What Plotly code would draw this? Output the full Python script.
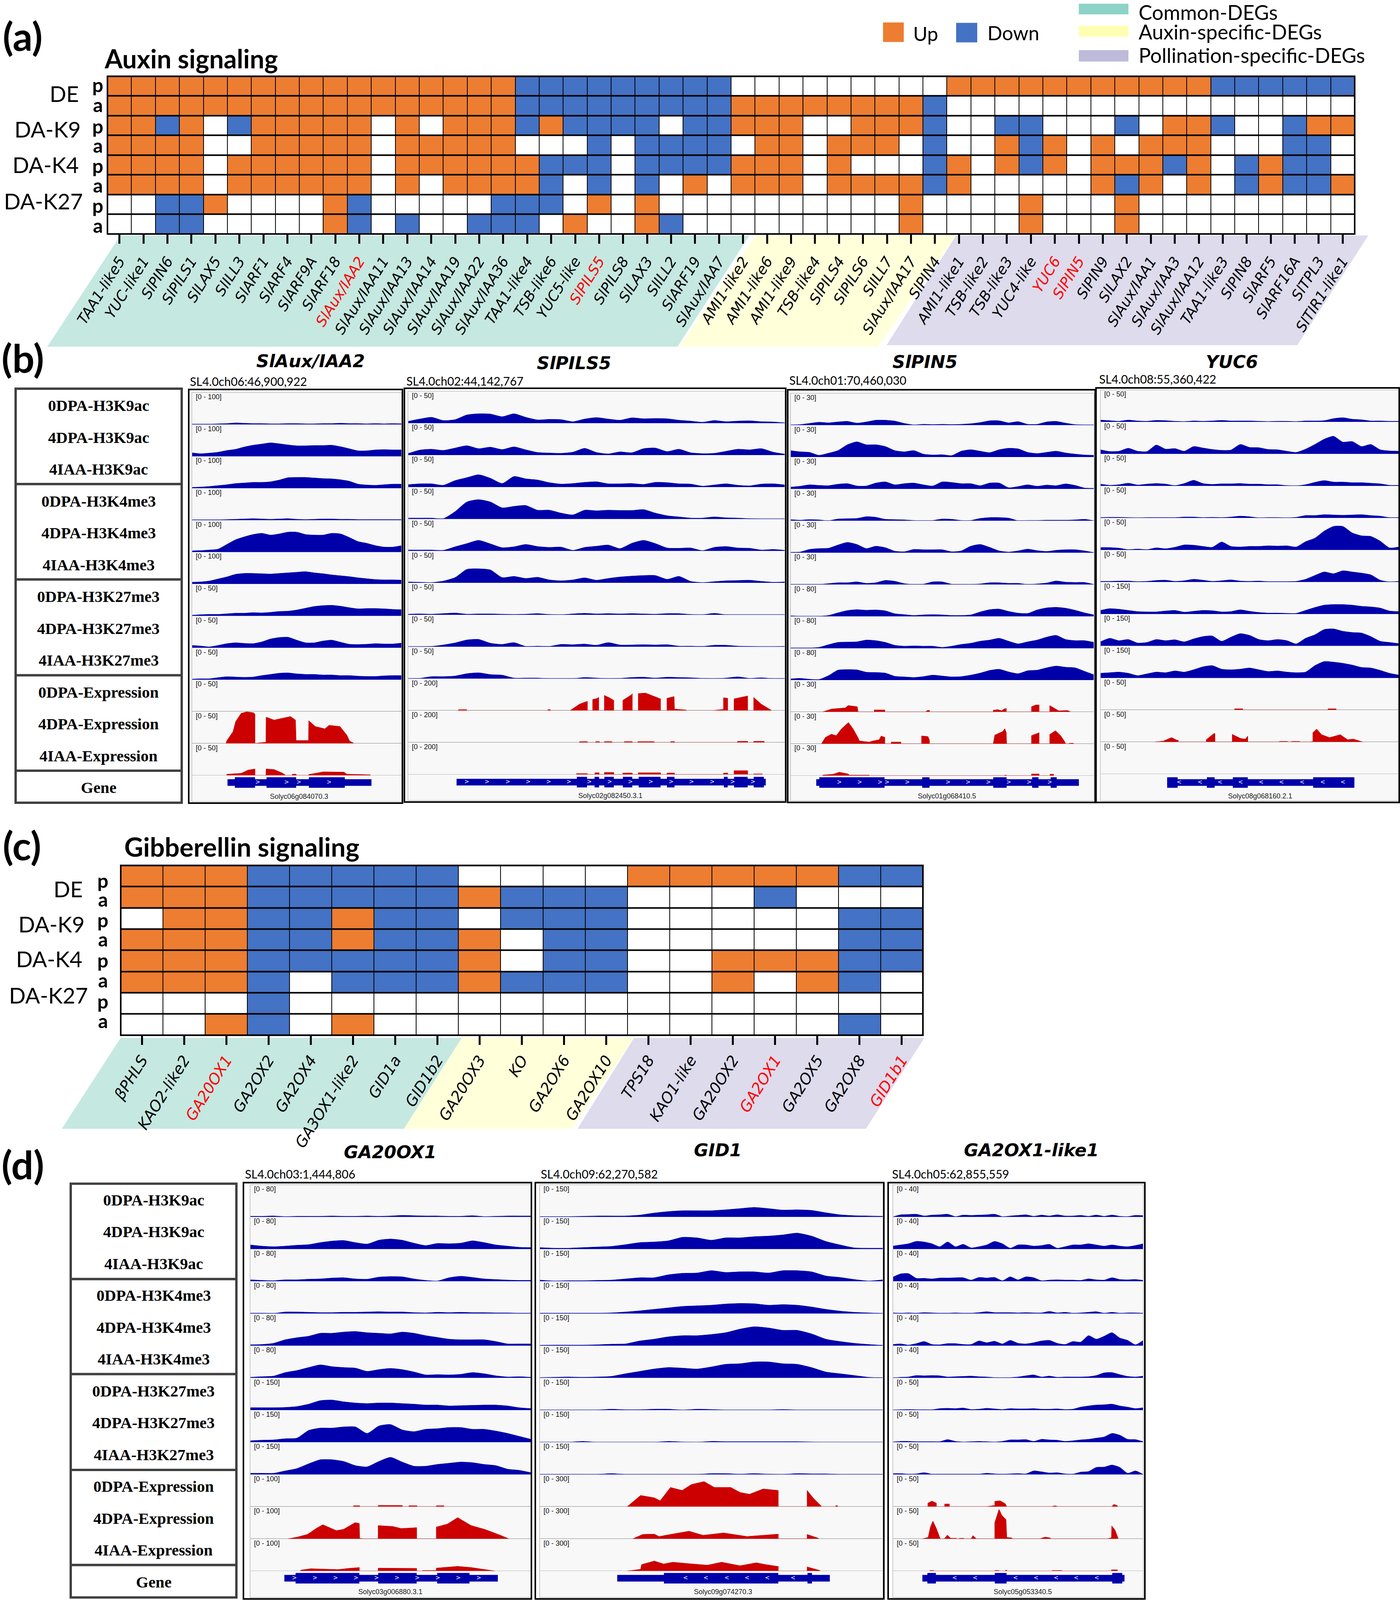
import numpy as np
import plotly.graph_objects as go

W, H = 3583, 4343

# ---- heatmap data ----
auxin_genes = ['TAA1-like5', 'YUC-like1', 'SlPIN6', 'SlPILS1', 'SlLAX5', 'SlILL3', 'SlARF1', 'SlARF4', 'SlARF9A',
               'SlARF18', 'SlAux/IAA2', 'SlAux/IAA11', 'SlAux/IAA13', 'SlAux/IAA14', 'SlAux/IAA19', 'SlAux/IAA22',
               'SlAux/IAA36', 'TAA1-like4', 'TSB-like6', 'YUC5-like', 'SlPILS5', 'SlPILS8', 'SlLAX3', 'SlILL2',
               'SlARF19', 'SlAux/IAA7', 'AMI1-like2', 'AMI1-like6', 'AMI1-like9', 'TSB-like4', 'SlPILS4', 'SlPILS6',
               'SlILL7', 'SlAux/IAA17', 'SlPIN4', 'AMI1-like1', 'TSB-like2', 'TSB-like3', 'YUC4-like', 'YUC6',
               'SlPIN5', 'SlPIN9', 'SlLAX2', 'SlAux/IAA1', 'SlAux/IAA3', 'SlAux/IAA12', 'TAA1-like3', 'SlPIN8',
               'SlARF5', 'SlARF16A', 'SlTPL3', 'SlTIR1-like1']
auxin_rows = [
    'OOOOOOOOOOOOOOOOOBBBBBBBBB_________OOOOOOOOOOOBBBBBB',
    'OOOOOOOOOOOOOOOOOBBBBBBBBBOOOOOOOOB_________________',
    'OOBO_BOOOOO_O_OOOBOBBBB_BBOOO__OOOB__BB___B_OOB__BOO',
    'OOOO__OOOOO_OOOOO___B_BBBB_OO_OOO_B__OBO_O_OOO___BB_',
    'OOOO_OOOOOO_OOOOOOBBB_BBBBOOO_O___BO_OBO_OOOBO_BOBB_',
    'OOOO_OOOOOO_O_OOOOB_B_B_O_OOO_OOOOBO_____OBO_O_BOBBO',
    '__BBO____OB_____BBB_O_O__________O____O___O_________',
    '__BB_____OB_B__BBB_O__OB_________O____O___O_________',
]
ga_genes = ['βPHLS', 'KAO2-like2', 'GA20OX1', 'GA2OX2', 'GA2OX4', 'GA3OX1-like2', 'GID1a', 'GID1b2', 'GA20OX3', 'KO',
            'GA2OX6', 'GA2OX10', 'TPS18', 'KAO1-like', 'GA20OX2', 'GA2OX1', 'GA2OX5', 'GA2OX8', 'GID1b1']
ga_rows = [
    'OOOBBBBB____OOOOOBB',
    'OOOBBBBBOBBB___B___',
    '_OOBBOBB_BBB_____BB',
    'OOOBBOBBO_BB_____BB',
    'OOOBBBBBO_BB__OOOBB',
    'OOOB_BBBOBBB__O_OB_',
    '___B_______________',
    '__OB_O___________B_',
]
red_genes = ['SlAux/IAA2', 'SlPILS5', 'YUC6', 'SlPIN5', 'GA20OX1', 'GA2OX1', 'GID1b1']
mark_names = ['0DPA-H3K9ac', '4DPA-H3K9ac', '4IAA-H3K9ac', '0DPA-H3K4me3', '4DPA-H3K4me3', '4IAA-H3K4me3',
              '0DPA-H3K27me3', '4DPA-H3K27me3', '4IAA-H3K27me3', '0DPA-Expression', '4DPA-Expression',
              '4IAA-Expression', 'Gene']

# ---- coverage tracks: heights, track full height = 109 ----
# SlAux/IAA2
iaa2_k9_0 = [1, 1, 1, 2, 3, 5, 4, 3, 3, 2, 2, 3, 3, 2, 2, 3, 3, 4, 3, 3, 2, 3, 2, 3, 2]
iaa2_k9_4 = [12, 9, 11, 14, 20, 24, 32, 38, 42, 46, 43, 39, 36, 36, 37, 37, 38, 33, 26, 19, 19, 22, 23, 22, 22]
iaa2_k9_i = [3, 4, 6, 9, 12, 16, 18, 20, 20, 22, 28, 36, 37, 37, 35, 33, 32, 29, 24, 14, 11, 10, 12, 14, 14]
iaa2_k4_0 = [1, 1, 1, 1, 2, 3, 4, 5, 4, 3, 4, 5, 3, 2, 3, 4, 4, 3, 3, 2, 2, 2, 2, 2, 2]
iaa2_k4_4 = [4, 5, 7, 10, 26, 42, 52, 60, 64, 58, 62, 68, 68, 60, 58, 58, 64, 62, 50, 36, 30, 22, 17, 17, 22]
iaa2_k4_i = [6, 7, 10, 17, 24, 33, 36, 36, 35, 34, 36, 38, 40, 42, 38, 35, 31, 28, 25, 21, 18, 15, 14, 14, 13]
iaa2_k27_0 = [2, 4, 5, 5, 7, 9, 9, 11, 10, 12, 15, 16, 20, 26, 32, 35, 36, 33, 28, 24, 25, 25, 24, 22, 21]
iaa2_k27_4 = [8, 6, 3, 8, 14, 17, 15, 14, 20, 30, 35, 36, 26, 17, 17, 23, 26, 19, 12, 11, 12, 14, 13, 13, 16]
iaa2_k27_i = [2, 3, 3, 7, 10, 9, 8, 9, 14, 18, 22, 23, 20, 18, 18, 16, 16, 14, 14, 12, 11, 11, 13, 14, 14]
iaa2_rna_0 = []
iaa2_rna_4 = [(16.3, 0), (16.7, 10), (19.6, 40), (20.9, 75), (23.5, 103), (26.1, 108), (29.4, 105), (30.1, 100), (30.1, 0),
              (32, 2), (35.3, 4), (35.4, 90), (39.2, 80), (47, 92), (49.4, 80), (49.7, 10), (55.6, 10), (55.7, 78),
              (58.8, 58), (63.4, 50), (65.4, 62), (70.6, 58), (73.9, 28), (75.2, 8), (76.9, 2), (77.1, 0)]
iaa2_rna_i = [(16.6, 0), (16.7, 4), (23.5, 7), (26.8, 18), (30.1, 22), (30.1, 0), (35.3, 0), (35.4, 22), (39.2, 20),
              (43.1, 8), (44.4, 2), (44.5, 0), (47.8, 0), (47.9, 4), (49.7, 4), (49.8, 0), (55.6, 0), (55.7, 3),
              (62.7, 12), (72.5, 11), (73.9, 4), (85, 2), (85.1, 0)]
iaa2_utr = [(17, 85.6)]
iaa2_exons = [(20.5, 30.1), (35.6, 49.7), (55.8, 72.9)]
iaa2_arrows = [31.4, 45.1, 51, 65.4]

# SlPILS5
pils5_k9_0 = [6, 14, 20, 9, 12, 28, 32, 31, 22, 32, 20, 11, 13, 12, 5, 14, 19, 14, 10, 18, 15, 16, 15, 10, 7, 3, 9, 5, 7, 8, 5, 4, 1]
pils5_k9_4 = [5, 17, 20, 16, 24, 32, 22, 27, 19, 28, 18, 9, 7, 6, 10, 23, 9, 4, 11, 8, 22, 24, 12, 20, 8, 5, 6, 13, 20, 18, 22, 10, 3]
pils5_k9_i = [8, 11, 11, 6, 22, 32, 42, 30, 12, 36, 28, 24, 15, 10, 12, 16, 18, 11, 11, 12, 9, 16, 15, 11, 10, 3, 7, 11, 6, 4, 10, 11, 7]
pils5_k4_0 = [3, 3, 3, 1, 25, 58, 66, 58, 38, 43, 46, 30, 30, 20, 14, 30, 28, 30, 29, 29, 32, 20, 11, 7, 3, 3, 7, 4, 3, 1, 0, 0, 0]
pils5_k4_4 = [3, 3, 3, 2, 14, 25, 36, 24, 11, 14, 22, 15, 12, 13, 2, 12, 16, 20, 8, 26, 36, 25, 10, 9, 10, 1, 12, 15, 10, 9, 3, 5, 2]
pils5_k4_i = [3, 2, 1, 6, 18, 46, 48, 44, 18, 22, 15, 19, 10, 7, 10, 17, 9, 15, 20, 23, 25, 25, 12, 22, 5, 1, 4, 7, 8, 9, 5, 2, 3]
pils5_k27_0 = [2, 3, 2, 4, 6, 2, 3, 3, 2, 1, 2, 4, 1, 0, 3, 5, 3, 4, 3, 4, 3, 2, 4, 4, 1, 0, 5, 0, 0, 0, 0, 0, 0]
pils5_k27_4 = [0, 0, 1, 6, 13, 23, 25, 12, 8, 14, 1, 2, 1, 8, 7, 9, 5, 14, 6, 6, 7, 6, 7, 2, 2, 1, 5, 5, 2, 1, 0, 0, 1]
pils5_k27_i = [0, 1, 7, 7, 9, 17, 20, 14, 12, 2, 2, 2, 0, 0, 0, 4, 2, 0, 1, 4, 5, 2, 5, 4, 3, 1, 0, 2, 6, 1, 3, 0, 0]
pils5_rna_0 = [(13.4, 0), (13.4, 3), (15.6, 3), (15.6, 0), (37.1, 0), (37.1, 3), (37.8, 3), (37.8, 0), (43, 0), (45.5, 22),
               (47.6, 32), (47.6, 0), (49, 0), (49, 38), (50.3, 42), (50.6, 46), (50.6, 0), (52.1, 0), (52.1, 52),
               (53.4, 44), (54.6, 35), (54.6, 0), (57, 0), (57, 35), (59.4, 55), (59.5, 58), (59.5, 0), (61.1, 0),
               (61.1, 58), (63, 60), (67, 40), (67, 0), (68.7, 0), (68.7, 42), (70.6, 48), (70.7, 5), (73.8, 2),
               (73.8, 0), (80.7, 0), (83.7, 4), (83.7, 44), (84.8, 42), (84.8, 0), (86.5, 0), (86.5, 40), (90.1, 50),
               (90.1, 0), (91.7, 0), (91.7, 45), (93.7, 22), (96.4, 1), (96.4, 0)]
pils5_rna_4 = [(45.5, 47.6, 3), (49.8, 50.8, 3), (52.1, 54.1, 3), (57.4, 59.5, 3), (61, 65.3, 3), (69.7, 70.7, 3),
               (87.4, 90.1, 4), (91.7, 94.5, 4)]
pils5_rna_i = [(44.7, 47.6, 3), (49.6, 50.7, 6), (52.1, 54.6, 7), (57, 59.5, 5), (61.1, 67, 6), (68.7, 70.7, 5),
               (83.7, 84.8, 5), (86.5, 90.1, 13), (91.7, 94, 2)]
pils5_utr = [(12.9, 94.9)]
pils5_exons = [(44.8, 47.5), (49.5, 50.7), (52.1, 54.6), (57, 59.5), (61.2, 67), (68.7, 70.7), (83.8, 84.8), (86.5, 90.1), (91.7, 94.4)]
pils5_arrows = [15.6, 21, 26.5, 31.9, 37.3, 42.7, 48.1, 53.5, 59, 64.4, 69.8, 75.2, 80.7, 86.1, 91.5]

# SlPIN5
pin5_k9_0 = [1, 2, 6, 10, 8, 11, 13, 7, 11, 17, 17, 14, 6, 1, 3, 2, 3, 2, 3, 5, 9, 15, 15, 8, 12, 3, 3, 11, 13, 7, 2, 1, 0]
pin5_k9_4 = [22, 18, 16, 6, 13, 22, 42, 52, 42, 42, 36, 22, 18, 22, 10, 7, 8, 5, 20, 25, 20, 15, 25, 30, 28, 16, 12, 16, 20, 14, 10, 7, 6]
pin5_k9_i = [6, 9, 14, 12, 11, 16, 18, 10, 10, 20, 24, 14, 18, 20, 14, 10, 24, 22, 18, 18, 11, 20, 20, 4, 8, 14, 9, 13, 11, 17, 12, 3, 2]
pin5_k4_0 = [4, 2, 4, 3, 0, 6, 7, 8, 14, 12, 5, 4, 3, 1, 0, 1, 6, 5, 1, 1, 8, 11, 11, 9, 0, 1, 1, 2, 2, 2, 3, 5, 0]
pin5_k4_4 = [1, 2, 11, 14, 15, 26, 35, 28, 14, 22, 17, 5, 3, 11, 10, 10, 10, 3, 6, 22, 28, 18, 6, 2, 6, 12, 7, 4, 8, 10, 10, 6, 0]
pin5_k4_i = [0, 0, 0, 0, 3, 6, 6, 9, 4, 6, 14, 11, 3, 0, 1, 9, 9, 1, 0, 0, 2, 6, 6, 4, 4, 0, 2, 5, 12, 8, 7, 7, 0]
pin5_k27_0 = [2, 0, 0, 0, 3, 12, 20, 23, 21, 22, 19, 9, 6, 3, 5, 6, 5, 3, 3, 5, 15, 23, 25, 17, 11, 10, 22, 29, 31, 28, 21, 12, 5]
pin5_k27_4 = [1, 1, 1, 3, 12, 20, 21, 22, 28, 26, 20, 10, 7, 8, 7, 7, 3, 7, 13, 17, 24, 28, 34, 24, 15, 22, 28, 38, 44, 30, 26, 26, 20]
pin5_k27_i = [4, 6, 3, 2, 15, 34, 36, 35, 27, 26, 24, 13, 11, 9, 12, 17, 14, 11, 12, 17, 24, 33, 37, 28, 22, 32, 34, 42, 48, 44, 42, 30, 18]
pin5_rna_0 = [(10.6, 0), (11.5, 3), (13.5, 10), (18.1, 14), (19, 22), (22, 18), (22.3, 0), (27.6, 0), (27.6, 7), (31.1, 7),
              (31.1, 0), (44.5, 0), (45.1, 5), (45.8, 6), (45.8, 0), (66.8, 0), (66.8, 6), (68.3, 8), (69.6, 4),
              (70.3, 10), (71.1, 12), (71.1, 0), (79.4, 0), (79.4, 18), (80.8, 24), (81.9, 24), (81.9, 0), (85.4, 0),
              (85.4, 22), (87.7, 8), (88.3, 4), (91.3, 5), (92.3, 0)]
pin5_rna_4 = [(10.2, 0), (11.5, 22), (13.5, 33), (15.1, 28), (16.7, 50), (19.1, 73), (20.7, 50), (22.3, 20), (22.7, 10),
              (25.9, 6), (27.2, 10), (29.2, 14), (29.9, 27), (31.1, 22), (31.1, 0), (33.2, 0), (33.2, 6), (36.4, 6),
              (36.4, 0), (43.2, 0), (43.2, 27), (45.3, 25), (45.8, 12), (45.8, 0), (66.8, 0), (67.3, 30), (69.9, 42),
              (70.6, 52), (71.1, 38), (71.2, 0), (79.4, 0), (79.4, 28), (81.9, 38), (81.9, 0), (85.4, 0), (85.4, 32),
              (87.3, 45), (89, 28), (90.3, 8), (90.6, 0), (91.9, 0), (91.9, 2), (93.2, 2), (93.2, 0)]
pin5_rna_i = [(10.6, 0), (10.6, 2), (14.1, 5), (16.1, 12), (19, 6), (19.4, 2), (25.9, 2), (25.9, 0), (70.6, 0), (70.6, 2),
              (71.1, 2), (71.1, 0), (79.4, 0), (79.4, 6), (81.9, 6), (81.9, 0), (85.5, 0), (85.5, 5), (86.7, 5), (86.7, 0)]
pin5_utr = [(8.5, 95)]
pin5_exons = [(9.5, 31), (43.4, 45.8), (66.8, 71.2), (79.6, 81.7), (85.7, 87.7)]
pin5_arrows = [16.1, 22.8, 29.5, 31.8, 38.5, 51.9, 58.5, 65.2, 71.9, 78.6, 85.4]

# YUC6
yuc6_k9_0 = [6, 4, 2, 6, 3, 2, 5, 4, 2, 1, 3, 2, 3, 5, 3, 3, 3, 2, 1, 2, 2, 1, 3, 3, 4, 11, 14, 9, 7, 3, 3, 2, 2]
yuc6_k9_4 = [14, 8, 9, 19, 9, 8, 30, 16, 18, 9, 25, 20, 15, 12, 13, 32, 22, 21, 15, 14, 9, 5, 16, 32, 50, 60, 40, 42, 25, 32, 14, 10, 9]
yuc6_k9_i = [6, 2, 4, 9, 3, 6, 8, 6, 1, 8, 19, 8, 5, 7, 7, 8, 6, 6, 4, 4, 1, 0, 4, 12, 18, 13, 13, 11, 11, 9, 7, 2, 2]
yuc6_k4_0 = [1, 2, 2, 1, 0, 1, 1, 1, 1, 3, 3, 1, 2, 1, 3, 6, 4, 0, 1, 1, 0, 2, 8, 8, 11, 10, 9, 10, 11, 8, 6, 1, 1]
yuc6_k4_4 = [8, 8, 6, 1, 3, 1, 7, 4, 9, 17, 16, 12, 9, 27, 12, 10, 12, 12, 14, 13, 14, 10, 28, 40, 64, 80, 80, 58, 48, 46, 30, 7, 10]
yuc6_k4_i = [2, 2, 3, 3, 1, 2, 5, 6, 2, 4, 9, 6, 2, 4, 7, 3, 2, 3, 1, 1, 1, 2, 9, 22, 34, 28, 38, 34, 30, 24, 6, 0, 2]
yuc6_k27_0 = [12, 18, 16, 12, 8, 7, 7, 10, 12, 6, 9, 12, 11, 7, 8, 14, 9, 5, 3, 3, 2, 2, 12, 22, 30, 32, 32, 30, 26, 24, 20, 10, 8]
yuc6_k27_4 = [14, 26, 18, 22, 10, 12, 22, 18, 21, 14, 24, 32, 34, 16, 30, 42, 36, 22, 18, 22, 18, 7, 26, 38, 56, 58, 50, 46, 44, 32, 16, 12, 8]
yuc6_k27_i = [16, 18, 20, 16, 8, 14, 20, 18, 24, 20, 28, 38, 42, 30, 28, 30, 34, 28, 22, 24, 20, 18, 20, 42, 56, 54, 50, 44, 36, 34, 26, 16, 10]
yuc6_rna_0 = [(45, 47.7, 4), (76.3, 79, 4)]
yuc6_rna_4 = [(18.3, 0), (21.1, 3), (23.1, 12), (23.9, 15), (25.7, 6), (26.1, 6), (26.1, 0), (35.5, 0), (35.5, 8), (38.2, 30),
              (38.4, 28), (38.4, 0), (44.2, 0), (44.2, 26), (47, 12), (48.6, 10), (49.4, 20), (49.4, 0), (60, 0), (60, 2),
              (62.7, 2), (62.7, 0), (64.1, 0), (64.1, 2), (66.8, 2), (66.8, 0), (70.3, 0), (71.2, 2), (71.2, 32),
              (72.5, 44), (74.1, 25), (76.8, 15), (80.4, 25), (82.8, 8), (84.8, 10), (87.9, 0)]
yuc6_rna_i = []
yuc6_utr = [(22.4, 85.1)]
yuc6_exons = [(22.4, 25.9), (35.7, 38.3), (44.4, 49.4), (71.3, 85.1)]
yuc6_arrows = [26.4, 33.4, 40.1, 47, 53.9, 60.7, 67.6, 74.5, 81.3]

# GA20OX1
ga20_k9_0 = [2, 2, 3, 1, 2, 2, 2, 3, 2, 2, 3, 2, 3, 5, 4, 3, 3, 2, 2, 4, 1, 2, 3, 3, 3]
ga20_k9_4 = [14, 10, 8, 10, 13, 15, 22, 27, 29, 22, 17, 30, 34, 30, 20, 12, 19, 18, 20, 28, 22, 14, 10, 6, 5]
ga20_k9_i = [5, 3, 2, 5, 5, 7, 8, 11, 12, 8, 7, 14, 16, 15, 8, 3, 1, 12, 17, 13, 8, 6, 4, 3, 3]
ga20_k4_0 = [1, 1, 0, 5, 5, 4, 3, 3, 4, 4, 5, 6, 5, 5, 3, 2, 4, 3, 4, 3, 3, 2, 2, 1, 1]
ga20_k4_4 = [3, 4, 8, 20, 27, 32, 42, 42, 46, 48, 44, 42, 40, 46, 42, 34, 28, 22, 20, 20, 20, 14, 6, 6, 6]
ga20_k4_i = [2, 4, 6, 18, 25, 35, 44, 38, 35, 33, 22, 28, 32, 28, 20, 10, 11, 10, 12, 18, 14, 7, 3, 4, 2]
ga20_k27_0 = [8, 8, 8, 9, 12, 20, 32, 34, 28, 24, 22, 24, 24, 22, 20, 17, 17, 14, 15, 16, 17, 17, 14, 8, 5]
ga20_k27_4 = [5, 7, 8, 12, 14, 40, 48, 48, 52, 52, 30, 55, 60, 42, 36, 44, 46, 50, 50, 44, 44, 38, 30, 20, 10]
ga20_k27_i = [4, 4, 4, 12, 20, 36, 50, 50, 44, 30, 26, 44, 58, 42, 28, 28, 34, 38, 42, 40, 34, 30, 18, 14, 6]
ga20_rna_0 = [(36.8, 39, 3), (45.6, 54.2, 4), (56.5, 59.4, 3), (66.3, 69, 3)]
ga20_rna_4 = [(13.5, 0), (16.8, 6), (20.4, 15), (23.5, 35), (25.9, 48), (28.3, 38), (30.7, 28), (33.2, 32), (37.4, 55),
              (38.9, 52), (39, 2), (40.2, 0), (45.6, 0), (45.6, 45), (50.8, 42), (53.8, 35), (59.3, 38), (59.3, 0),
              (66.3, 0), (66.3, 40), (70.2, 50), (73.9, 72), (78.7, 45), (83.6, 32), (89.7, 10), (92.1, 0)]
ga20_rna_i = [(18, 0), (18, 3), (21.6, 8), (27.7, 6), (31.3, 5), (35, 9), (38.9, 12), (38.9, 0), (45.6, 0), (45.6, 10),
              (59.3, 9), (59.3, 0), (61.4, 0), (61.4, 2), (66.3, 2), (66.3, 10), (73.9, 16), (78.7, 12), (84.8, 3), (87.2, 0)]
ga20_utr = [(12.2, 88.2)]
ga20_exons = [(16.2, 38.9), (45.6, 59.3), (66.6, 78.1)]
ga20_arrows = [15.8, 23.1, 30.4, 37.7, 45, 52.3, 59.5, 66.8, 74.1, 81.4]

# GID1
gid1_k9_0 = [1, 1, 1, 2, 3, 3, 3, 6, 13, 18, 21, 21, 21, 24, 28, 32, 28, 23, 24, 22, 14, 7, 4, 3, 2]
gid1_k9_4 = [5, 3, 3, 5, 7, 9, 15, 22, 24, 28, 40, 38, 30, 38, 38, 42, 44, 48, 54, 44, 26, 14, 4, 3, 3]
gid1_k9_i = [4, 1, 2, 2, 3, 4, 8, 12, 12, 22, 27, 28, 36, 30, 32, 32, 28, 36, 36, 32, 18, 13, 6, 1, 5]
gid1_k4_0 = [1, 1, 1, 1, 1, 2, 5, 9, 14, 19, 24, 26, 28, 32, 34, 33, 28, 30, 28, 22, 14, 8, 4, 2, 0]
gid1_k4_4 = [1, 2, 2, 2, 3, 5, 6, 16, 22, 30, 34, 34, 38, 44, 56, 64, 60, 52, 52, 40, 22, 14, 8, 4, 1]
gid1_k4_i = [1, 2, 3, 2, 3, 5, 14, 22, 30, 35, 33, 30, 37, 46, 48, 54, 54, 48, 46, 35, 20, 14, 8, 2, 0]
gid1_k27_0 = [0, 0, 0, 0, 0, 3, 1, 1, 3, 3, 0, 3, 2, 0, 0, 0, 0, 2, 0, 0, 0, 0, 0, 0, 0]
gid1_k27_4 = [0, 0, 0, 3, 0, 0, 0, 0, 0, 3, 1, 0, 3, 2, 2, 2, 2, 2, 2, 1, 0, 0, 0, 0, 0]
gid1_k27_i = [0, 0, 0, 0, 0, 3, 0, 0, 0, 0, 0, 0, 3, 3, 1, 3, 1, 0, 3, 2, 2, 0, 0, 0, 0]
gid1_rna_0 = [(25.5, 0), (29.4, 38), (33.4, 30), (35.1, 20), (38.1, 65), (41.5, 55), (44.2, 75), (47.9, 85), (50.9, 65),
              (55.7, 65), (58.4, 48), (61.1, 42), (65.1, 60), (69.2, 55), (69.5, 55), (69.5, 0), (77.9, 0), (77.9, 55),
              (79.6, 30), (82, 2), (82, 0), (86.2, 0), (86.2, 3), (86.8, 3), (86.8, 0)]
gid1_rna_4 = [(27.1, 0), (30, 15), (33.4, 16), (34.8, 8), (38.1, 15), (43.5, 26), (47.6, 12), (53.6, 20), (60.4, 8),
              (69.2, 16), (69.5, 16), (69.5, 0), (77.9, 0), (77.9, 15), (81.2, 2), (81.2, 0)]
gid1_rna_i = [(25.5, 0), (29.4, 6), (29.7, 22), (33.4, 34), (36.1, 24), (38.8, 30), (43.5, 25), (48.9, 20), (53, 30),
              (58.4, 18), (63.1, 28), (65.8, 22), (69.2, 16), (69.5, 16), (69.5, 0), (77.9, 0), (77.9, 14), (81.6, 2), (81.6, 0)]
gid1_utr = [(22.6, 84.5)]
gid1_exons = [(36.2, 69.5), (78, 79.3)]
gid1_arrows = [42.5, 48.4, 54.5, 60.4, 66.3, 73.8]

# GA2OX1-like1
ga2_k9_0 = [0, 7, 8, 9, 3, 6, 7, 9, 1, 6, 5, 6, 7, 9, 1, 3, 5, 7, 2, 6, 3, 7, 3, 3, 5, 2, 6, 2, 6, 2, 1, 5, 4]
ga2_k9_4 = [10, 14, 18, 26, 24, 18, 8, 24, 8, 16, 4, 8, 14, 26, 18, 3, 14, 14, 10, 12, 16, 3, 8, 14, 14, 18, 14, 10, 14, 10, 8, 12, 18]
ga2_k9_i = [14, 25, 26, 10, 10, 8, 11, 11, 12, 12, 4, 13, 11, 13, 2, 15, 5, 15, 12, 2, 4, 5, 4, 4, 3, 8, 5, 4, 12, 6, 5, 6, 3]
ga2_k4_0 = [2, 1, 2, 1, 3, 2, 1, 1, 2, 1, 1, 3, 6, 3, 3, 3, 2, 3, 2, 2, 7, 2, 4, 1, 2, 4, 6, 1, 4, 1, 2, 2, 1]
ga2_k4_4 = [4, 6, 2, 7, 14, 4, 3, 7, 7, 4, 4, 16, 10, 15, 6, 18, 8, 6, 10, 16, 18, 8, 4, 14, 12, 34, 22, 32, 44, 26, 18, 3, 18]
ga2_k4_i = [0, 2, 3, 8, 7, 8, 7, 3, 4, 5, 6, 4, 3, 1, 0, 1, 3, 7, 10, 3, 6, 2, 3, 3, 3, 4, 8, 17, 18, 11, 5, 3, 6]
ga2_k27_0 = [0, 1, 2, 1, 1, 1, 5, 6, 5, 7, 2, 3, 6, 4, 2, 5, 4, 4, 5, 3, 3, 4, 2, 3, 10, 14, 17, 18, 20, 14, 10, 5, 8]
ga2_k27_4 = [1, 3, 3, 2, 2, 2, 2, 9, 3, 1, 2, 3, 2, 1, 3, 8, 8, 9, 3, 10, 8, 7, 3, 5, 8, 10, 14, 18, 30, 24, 10, 9, 2]
ga2_k27_i = [3, 3, 1, 2, 6, 1, 1, 1, 1, 1, 1, 1, 4, 2, 1, 2, 3, 2, 12, 9, 5, 6, 2, 1, 8, 10, 24, 25, 32, 24, 4, 12, 0]
ga2_rna_0 = [(14, 0), (14, 12), (15.6, 19), (17.4, 12), (17.4, 0), (20.7, 0), (20.7, 9), (22.6, 9), (22.6, 0), (37.2, 0),
             (40.7, 4), (40.7, 18), (42.8, 20), (44.9, 10), (45.5, 0), (63.3, 0), (64.7, 3), (66.1, 0), (87.4, 0),
             (88.3, 8), (89.7, 3), (89.7, 0)]
ga2_rna_4 = [(11.8, 0), (14.1, 5), (15, 40), (16, 60), (17.4, 35), (18.8, 3), (18.8, 0), (20.5, 0), (21.8, 13), (22.9, 3),
             (23.4, 2), (25.4, 2), (25.4, 0), (26.6, 0), (26.6, 2), (28.3, 2), (28.3, 0), (31.2, 0), (32, 11), (33.4, 0),
             (40.7, 0), (40.7, 55), (42.4, 100), (43.5, 80), (45.2, 65), (45.5, 5), (47.6, 3), (47.6, 0), (58.6, 0),
             (60.8, 6), (62.9, 3), (62.9, 0), (85.7, 0), (87.3, 4), (87.4, 44), (88.7, 30), (89.9, 3), (89.9, 0)]
ga2_rna_i = [(14.8, 16.3, 2), (40.7, 42.3, 2), (45, 45.5, 3), (63.6, 67.4, 2), (87.3, 89.7, 4)]
ga2_utr = [(11.8, 92.5)]
ga2_exons = [(13.8, 17.2), (40.7, 45.4), (87.6, 91.6)]
ga2_arrows = [24.7, 32.9, 49, 57.2, 65.2, 73.2, 81.4]

# ---- colours ----
ORANGE = '#ED7D31'
BLUE = '#4472C4'
NAVY = '#0000AA'
RED = '#CC0000'
TEAL_L, YEL_L, PUR_L = '#C5E8E1', '#FFFFD9', '#DDDBEC'

fig = go.Figure()
annots = []
shapes = []
layout_axes = {}
ax_count = [0, 0]


def px(x):
    return x / W


def py(y):
    return 1 - y / H


def txt(x, y, text, size, family='Lato', color='black', anchor='left'):
    annots.append(dict(x=px(x), y=py(y), xref='paper', yref='paper', text=text, showarrow=False, xanchor=anchor,
                       yanchor='middle', font=dict(size=size, family=family, color=color), align=anchor))


def rect(x0, y0, x1, y1, fill=None, line=None, lw=0, layer='above'):
    shapes.append(dict(type='rect', xref='paper', yref='paper', x0=px(x0), x1=px(x1), y0=py(y0), y1=py(y1),
                       fillcolor=fill if fill else 'rgba(0,0,0,0)', line=dict(color=line if line else 'rgba(0,0,0,0)', width=lw),
                       layer=layer))


def poly(points, fill):
    path = 'M ' + ' L '.join(f'{px(a):.5f} {py(b):.5f}' for a, b in points) + ' Z'
    shapes.append(dict(type='path', xref='paper', yref='paper', path=path, fillcolor=fill, line=dict(width=0), layer='below'))


def new_x(x0, x1):
    ax_count[0] += 1
    n = ax_count[0]
    layout_axes[f'xaxis{n}'] = dict(domain=[px(x0), px(x1)], visible=False, range=[0, 100], fixedrange=True, anchor='free',
                                    position=0, automargin=False)
    return f'x{n}'


def new_y(y_top, y_bot, rng):
    ax_count[1] += 1
    n = ax_count[1]
    layout_axes[f'yaxis{n}'] = dict(domain=[py(y_bot), py(y_top)], visible=False, range=rng, fixedrange=True, anchor='free',
                                    position=0, automargin=False)
    return f'y{n}'


def expand(points):
    # (start, end, height) segments turn into outline points
    if points and len(points[0]) == 3:
        out = []
        for a, b, h in points:
            out += [(a, 0), (a, h), (b, h), (b, 0)]
        return out
    return points


def heat(rows, genes, x0, x1, y0, y1, angle, label_size, standoff):
    code = {'_': 0, 'O': 1, 'B': 2}
    z = [[code[c] for c in r] for r in rows]
    ax_count[0] += 1
    ax_count[1] += 1
    nx, ny = ax_count
    labels = [f"<span style='color:red'><i>{g}</i></span>" if g in red_genes else f'<i>{g}</i>' for g in genes]
    layout_axes[f'xaxis{nx}'] = dict(domain=[px(x0), px(x1)], type='category', anchor=f'y{ny}', range=[-0.5, len(genes) - 0.5],
                                     tickmode='array', tickvals=genes, ticktext=labels, tickangle=angle, ticks='outside',
                                     ticklen=24, tickwidth=5, tickcolor='black', showgrid=False, zeroline=False, showline=False,
                                     tickfont=dict(family='DejaVu Sans', size=label_size, color='black'), ticklabelstandoff=standoff,
                                     fixedrange=True, automargin=False)
    layout_axes[f'yaxis{ny}'] = dict(domain=[py(y1), py(y0)], anchor=f'x{nx}', range=[7.5, -0.5], visible=False,
                                     fixedrange=True, automargin=False)
    rect(x0, y0, x1, y1, fill='black', layer='below')
    fig.add_trace(go.Heatmap(z=z, x=genes, y=list(range(8)), zmin=0, zmax=2, showscale=False, xgap=2, ygap=4, hoverinfo='skip',
                             colorscale=[[0, 'white'], [0.33, 'white'], [0.33, ORANGE], [0.66, ORANGE], [0.66, BLUE], [1, BLUE]],
                             xaxis=f'x{nx}', yaxis=f'y{ny}'))
    rect(x0, y0, x1, y1, line='black', lw=4)


def track_panel(title, title_x, title_y, locus, locus_x, locus_y, box, tx0, tx1, base0, step, scale_labels, tracks, rna,
                utr, exons, arrows, arrow_char, gene_name, name_x, name_y, gene_y):
    txt(title_x, title_y, f'<b><i>{title}</i></b>', 45, family='DejaVu Sans', anchor='center')
    txt(locus_x, locus_y - 7, locus, 30)
    xa = new_x(tx0, tx1)
    tr_h = step
    for i, v in enumerate(tracks + rna):
        base = base0 + i * step
        ya = new_y(base - tr_h, base, [0, 109])
        if i < 9:
            xs, ys = list(np.linspace(0, 100, len(v))), v
            col, base_col, line = NAVY, NAVY, dict(color=NAVY, width=1, shape='spline', smoothing=0.6)
        else:
            pts = expand(v)
            xs, ys = [p[0] for p in pts], [p[1] for p in pts]
            col, base_col, line = RED, '#B5B5B5' if i == 11 else '#808080', dict(color=RED, width=1)
        fig.add_trace(go.Scatter(x=[0, 100], y=[0, 0], mode='lines', line=dict(color=base_col, width=2), xaxis=xa, yaxis=ya, hoverinfo='skip'))
        if len(xs):
            fig.add_trace(go.Scatter(x=xs, y=ys, mode='lines', line=line, fill='tozeroy', fillcolor=col,
                                     xaxis=xa, yaxis=ya, hoverinfo='skip'))
        txt(tx0 + 8, base - tr_h + 12, f'[0 - {scale_labels[i]}]', 18, family='Liberation Sans', color='#111111')
    # gene model row
    last = base0 + 11 * step
    ya = new_y(last, box[3] - 3, [0, 1])
    gy = 1 - (gene_y - last) / (box[3] - 3 - last)
    for segs, lw in ((utr, 17), (exons, 27)):
        xs, ys = [], []
        for a, b in segs:
            xs += [a, b, None]
            ys += [gy, gy, None]
        fig.add_trace(go.Scatter(x=xs, y=ys, mode='lines', line=dict(color=NAVY, width=lw), xaxis=xa, yaxis=ya, hoverinfo='skip'))
    fig.add_trace(go.Scatter(x=arrows, y=[gy] * len(arrows), mode='text', text=[arrow_char] * len(arrows),
                             textfont=dict(color='white', size=15, family='DejaVu Sans'), xaxis=xa, yaxis=ya, hoverinfo='skip'))
    txt(name_x, name_y, gene_name, 18, family='Liberation Sans', color='#222222', anchor='center')
    rect(tx0, base0 - tr_h, tx1, box[3] - 4, line='#C8C8C8', lw=2)
    rect(box[0], box[1], box[2], box[3], line='black', lw=4)


def label_table(x0, x1, y_top, dividers, y_bot, cx, y_first):
    edges = [y_top] + dividers + [y_bot]
    for a, b in zip(edges[:-1], edges[1:]):
        rect(x0, a, x1, b, fill='white', line='#404040', lw=6)
    for i, name in enumerate(mark_names):
        txt(cx, y_first + i * 86.4, f'<b>{name}</b>', 41, family='Liberation Serif', anchor='center')


# ---- panel (a) ----
poly([(308, 639), (1918, 639), (1734, 941), (121, 941)], TEAL_L)
poly([(1935, 639), (2447, 639), (2246, 941), (1740, 941)], YEL_L)
poly([(2447, 639), (3502, 639), (3320, 937), (2269, 937)], PUR_L)
heat(auxin_rows, auxin_genes, 275, 3467, 207, 635, -58, 37, 8)
txt(5, 97, '<b>(a)</b>', 100)
txt(265, 158, '<b>Auxin signaling</b>', 66)
for name, y, xr in (('DE', 254, 204), ('DA-K9', 350, 209), ('DA-K4', 447, 204), ('DA-K27', 545, 214)):
    txt(xr, y, name, 56, anchor='right')
for name, y in zip('papapapa', (230, 284, 342, 394, 450, 503, 558, 612)):
    txt(250, y, f'<b>{name}</b>', 50, anchor='center')

rect(2260, 61, 2313, 114, fill=ORANGE)
rect(2447, 62, 2501, 115, fill=BLUE)
txt(2335, 91, 'Up', 50)
txt(2525, 89, 'Down', 50)
rect(2761, 10, 2888, 39, fill='#8DD3C7')
rect(2761, 70, 2888, 100, fill='#FFFFB3')
rect(2761, 136, 2888, 167, fill='#BEBADA')
txt(2912, 33, 'Common-DEGs', 52)
txt(2912, 86, 'Auxin-specific-DEGs', 52)
txt(2912, 150, 'Pollination-specific-DEGs', 52)

# ---- panel (b) ----
txt(2, 970, '<b>(b)</b>', 100)
label_table(40, 465, 1055, [1314, 1573, 1833, 2092], 2179, 252, 1101)
track_panel('SlAux/IAA2', 795, 980, 'SL4.0ch06:46,900,922', 484, 1042, (483, 1057, 1030, 2180), 491, 1028, 1152, 86.6,
            [100] * 6 + [50] * 6,
            [iaa2_k9_0, iaa2_k9_4, iaa2_k9_i, iaa2_k4_0, iaa2_k4_4, iaa2_k4_i, iaa2_k27_0, iaa2_k27_4, iaa2_k27_i],
            [iaa2_rna_0, iaa2_rna_4, iaa2_rna_i], iaa2_utr, iaa2_exons, iaa2_arrows, '>', 'Solyc06g084070.3', 765, 2162, 2124)
track_panel('SlPILS5', 1469, 986, 'SL4.0ch02:44,142,767', 1038, 1041, (1035, 1054, 2011, 2177), 1044, 2009, 1148.5, 86.7,
            [50] * 9 + [200] * 3,
            [pils5_k9_0, pils5_k9_4, pils5_k9_i, pils5_k4_0, pils5_k4_4, pils5_k4_i, pils5_k27_0, pils5_k27_4, pils5_k27_i],
            [pils5_rna_0, pils5_rna_4, pils5_rna_i], pils5_utr, pils5_exons, pils5_arrows, '>', 'Solyc02g082450.3.1', 1562, 2160, 2123)
track_panel('SlPIN5', 2367, 982, 'SL4.0ch01:70,460,030', 2018, 1039, (2016, 1058, 2803, 2178), 2023, 2800, 1154, 86.5,
            [30] * 6 + [80] * 3 + [30] * 3,
            [pin5_k9_0, pin5_k9_4, pin5_k9_i, pin5_k4_0, pin5_k4_4, pin5_k4_i, pin5_k27_0, pin5_k27_4, pin5_k27_i],
            [pin5_rna_0, pin5_rna_4, pin5_rna_i], pin5_utr, pin5_exons, pin5_arrows, '>', 'Solyc01g068410.5', 2423, 2161, 2124)
track_panel('YUC6', 3152, 982, 'SL4.0ch08:55,360,422', 2811, 1035, (2805, 1053, 3581, 2178), 2816, 3580, 1145, 86.9,
            [50] * 6 + [150] * 3 + [50] * 3,
            [yuc6_k9_0, yuc6_k9_4, yuc6_k9_i, yuc6_k4_0, yuc6_k4_4, yuc6_k4_i, yuc6_k27_0, yuc6_k27_4, yuc6_k27_i],
            [yuc6_rna_0, yuc6_rna_4, yuc6_rna_i], yuc6_utr, yuc6_exons, yuc6_arrows, '<', 'Solyc08g068160.2.1', 3225, 2161, 2124)

# ---- panel (c) ----
poly([(309, 2817), (1182, 2817), (1034, 3064), (158, 3064)], TEAL_L)
poly([(1182, 2817), (1623, 2817), (1462, 3064), (1034, 3064)], YEL_L)
poly([(1623, 2817), (2366, 2817), (2216, 3064), (1478, 3064)], PUR_L)
heat(ga_rows, ga_genes, 309, 2362, 2349, 2810, -58, 39, 0)
txt(5, 2293, '<b>(c)</b>', 100)
txt(316, 2298, '<b>Gibberellin signaling</b>', 67)
for name, y, xr in (('DE', 2413, 214), ('DA-K9', 2508, 219), ('DA-K4', 2603, 213), ('DA-K27', 2701, 227)):
    txt(xr, y, name, 56, anchor='right')
for name, y in zip('papapapa', (2390, 2441, 2497, 2549, 2606, 2660, 2718, 2771)):
    txt(263, y, f'<b>{name}</b>', 50, anchor='center')

# ---- panel (d) ----
txt(2, 3160, '<b>(d)</b>', 100)
label_table(181, 605, 3213, [3472, 3730, 3990, 4248], 4336, 393, 3257)
track_panel('GA20OX1', 998, 3127, 'SL4.0ch03:1,444,806', 625, 3193, (623, 3210, 1360, 4340), 640, 1359, 3303, 87.4,
            [80] * 6 + [150] * 3 + [100] * 3,
            [ga20_k9_0, ga20_k9_4, ga20_k9_i, ga20_k4_0, ga20_k4_4, ga20_k4_i, ga20_k27_0, ga20_k27_4, ga20_k27_i],
            [ga20_rna_0, ga20_rna_4, ga20_rna_i], ga20_utr, ga20_exons, ga20_arrows, '>', 'Solyc03g006880.3.1', 999, 4321, 4284)
track_panel('GID1', 1837, 3122, 'SL4.0ch09:62,270,582', 1382, 3193, (1370, 3210, 2262, 4340), 1381, 2260, 3303, 87.4,
            [150] * 9 + [300] * 3,
            [gid1_k9_0, gid1_k9_4, gid1_k9_i, gid1_k4_0, gid1_k4_4, gid1_k4_i, gid1_k27_0, gid1_k27_4, gid1_k27_i],
            [gid1_rna_0, gid1_rna_4, gid1_rna_i], gid1_utr, gid1_exons, gid1_arrows, '<', 'Solyc09g074270.3', 1851, 4321, 4284)
track_panel('GA2OX1-like1', 2639, 3122, 'SL4.0ch05:62,855,559', 2281, 3193, (2273, 3210, 2930, 4340), 2285, 2926, 3303, 87.4,
            [40] * 6 + [50] * 6,
            [ga2_k9_0, ga2_k9_4, ga2_k9_i, ga2_k4_0, ga2_k4_4, ga2_k4_i, ga2_k27_0, ga2_k27_4, ga2_k27_i],
            [ga2_rna_0, ga2_rna_4, ga2_rna_i], ga2_utr, ga2_exons, ga2_arrows, '<', 'Solyc05g053340.5', 2617, 4321, 4284)

fig.update_layout(width=W, height=H, margin=dict(l=0, r=0, t=0, b=0), paper_bgcolor='white', plot_bgcolor='#F8F8F8',
                  showlegend=False, annotations=annots, shapes=shapes, **layout_axes)

# the window can be shorter than the page, so the figure takes the size of the window
fit_js = """
document.body.style.margin='0';
document.documentElement.style.overflow='hidden';
Plotly.relayout(document.getElementById('{plot_id}'), {width: window.innerWidth, height: window.innerHeight});
"""
fig.write_html("out.html", post_script=fit_js, config=dict(displayModeBar=False))
